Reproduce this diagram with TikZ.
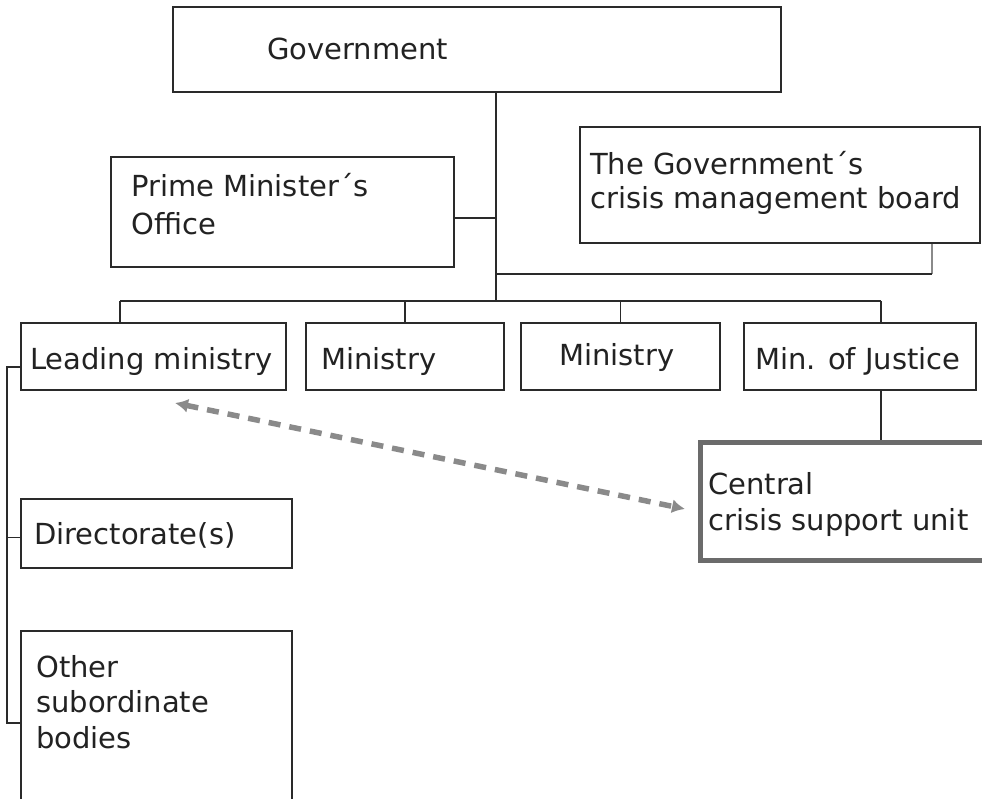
\documentclass[tikz,border=0pt]{standalone}
\usepackage{fontspec}
\setmainfont{DejaVu Sans}
\usetikzlibrary{arrows.meta}
\definecolor{ink}{HTML}{222222}
\definecolor{edge}{HTML}{2A2A2A}
\definecolor{midgray}{HTML}{6B6B6B}
\definecolor{lightgray}{HTML}{8A8A8A}
\tikzset{
  box/.style={draw=edge, line width=2pt, rectangle, inner sep=0pt, fill=white},
  unitbox/.style={draw=midgray, line width=5pt, rectangle, inner sep=0pt, fill=white},
  txt/.style={text=ink, inner sep=0pt, anchor=base west, align=left,
    font=\fontsize{29}{35.5}\selectfont},
  link/.style={draw=edge, line width=1.6pt},
  graylink/.style={draw=lightgray, line width=2pt},
  dasharrow/.style={draw=lightgray, line width=5.5pt, dash pattern=on 12pt off 9pt,
    {Latex[length=13pt,width=14pt]}-{Latex[length=13pt,width=14pt]}}
}
\begin{document}
\begin{tikzpicture}[x=1pt,y=-1pt]
\useasboundingbox (0,0) rectangle (982,799);
\begin{scope}
\clip (0,0) rectangle (982,799);
% boxes
\node[box, minimum width=608pt, minimum height=85pt] (gov) at (477,49.5) {};
\node[box, minimum width=343pt, minimum height=110pt] (pmo) at (282.5,212) {};
\node[box, minimum width=400pt, minimum height=116pt] (board) at (780,185) {};
\node[box, minimum width=265pt, minimum height=67pt] (lead) at (153.5,356.5) {};
\node[box, minimum width=198pt, minimum height=67pt] (min1) at (405,356.5) {};
\node[box, minimum width=199pt, minimum height=67pt] (min2) at (620.5,356.5) {};
\node[box, minimum width=232pt, minimum height=67pt] (moj) at (860,356.5) {};
\node[unitbox, minimum width=295pt, minimum height=118pt] (central) at (847.5,501) {};
\node[box, minimum width=271pt, minimum height=69pt] (dir) at (156.5,533.5) {};
\node[box, minimum width=271pt, minimum height=199pt] (other) at (156.5,730.5) {};
% texts (base anchor = baseline of last line)
\node[txt] (tgov) at (267,60) {Government};
\node[txt, font=\fontsize{29}{38}\selectfont] (tpmo) at (131,235) {Prime Minister´s\\Office};
\node[txt, font=\fontsize{29}{34}\selectfont] (tboard) at (590,209) {The Government´s\\crisis management board};
\node[txt] (tlead) at (30,370) {Leading ministry};
\node[txt] (tmin1) at (321,370) {Ministry};
\node[txt] (tmin2) at (559,366) {Ministry};
\node[txt] (tmoj) at (755,370) {Min. of Justice};
\node[txt] (tcentral) at (708,530) {Central\\crisis support unit};
\node[txt] (tdir) at (34,544) {Directorate(s)};
\node[txt] (tother) at (36,748) {Other\\subordinate\\bodies};
% connectors
\coordinate (t) at (496,301);
\coordinate (bL) at (120,301);
\coordinate (bR) at (881,301);
\coordinate (bc) at (932,274);
\draw[link] (t |- gov.south) -- (t);
\draw[link] ([yshift=-6pt]pmo.east) -- ([yshift=-6pt]pmo.east -| t);
\draw[graylink] (bc |- board.south) -- (bc);
\draw[link] (bc) -- (bc -| t);
\draw[link] (bL) -- (bR);
\draw[link] (bL) -- (bL |- lead.north);
\draw[link] (min1.north |- bL) -- (min1.north);
\draw[link] (min2.north |- bL) -- (min2.north);
\draw[link] (bR) -- (bR |- moj.north);
\draw[link] (moj.south -| bR) -- (central.north -| bR);
\coordinate (lbt) at (7,367);
\coordinate (lbb) at (7,723);
\draw[link] (lead.west |- lbt) -- (lbt) -- (lbb) -- (other.west |- lbb);
\draw[link] ([yshift=-4pt]dir.west) -- ([yshift=-4pt]dir.west -| lbt);
\coordinate (aL) at (175,403);
\coordinate (aR) at (685,509);
\draw[dasharrow] (aL) -- (aR);
\end{scope}
\end{tikzpicture}
\end{document}
